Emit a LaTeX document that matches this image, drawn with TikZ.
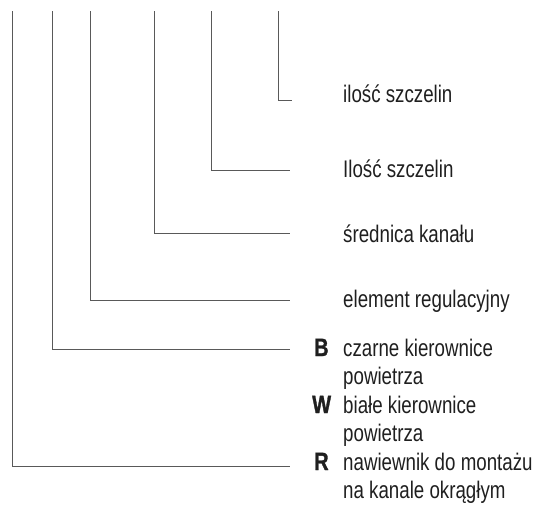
\documentclass[tikz,border=0pt]{standalone}
\usepackage{fontspec}
\setmainfont{Liberation Sans}[FakeStretch=0.78]
\newfontfamily\keyfont{Liberation Sans Bold}[FakeStretch=0.8, FakeBold=1.2]

\begin{document}
\begin{tikzpicture}[x=1pt, y=-1pt,
  lead/.style={draw=black!65, line width=0.9pt},
  lbl/.style={anchor=base west, inner sep=0pt, text=black!88,
              font=\fontsize{24}{28}\selectfont},
  keyletter/.style={lbl, font=\fontsize{25}{28}\keyfont}]

\useasboundingbox (0,0) rectangle (537,507);

% leader tops
\coordinate (t1) at (12,11);
\coordinate (t2) at (52,11);
\coordinate (t3) at (90,11);
\coordinate (t4) at (154,11);
\coordinate (t5) at (211,11);
\coordinate (t6) at (278,11);

% leader ends
\coordinate (e1) at (290,466);
\coordinate (e2) at (290,349);
\coordinate (e3) at (290,300);
\coordinate (e4) at (290,233);
\coordinate (e5) at (290,170);
\coordinate (e6) at (292,100);

% labels
\node[lbl] (n6) at (343,102) {ilość szczelin};
\node[lbl] (n5) at (343,177) {Ilość szczelin};
\node[lbl] (n4) at (343,242) {średnica kanału};
\node[lbl] (n3) at (343,307) {element regulacyjny};
\node[keyletter] (kB) at (314,356) {B};
\node[lbl] (tB1) at (343,356) {czarne kierownice};
\node[lbl] (tB2) at (343,384) {powietrza};
\node[keyletter] (kW) at (312,413) {W};
\node[lbl] (tW1) at (343,413) {białe kierownice};
\node[lbl] (tW2) at (343,441) {powietrza};
\node[keyletter] (kR) at (314,470) {R};
\node[lbl] (tR1) at (343,470) {nawiewnik do montażu};
\node[lbl] (tR2) at (343,498) {na kanale okrągłym};

% leaders
\draw[lead] (t1) |- (e1);
\draw[lead] (t2) |- (e2);
\draw[lead] (t3) |- (e3);
\draw[lead] (t4) |- (e4);
\draw[lead] (t5) |- (e5);
\draw[lead] (t6) |- (e6);

\end{tikzpicture}
\end{document}
